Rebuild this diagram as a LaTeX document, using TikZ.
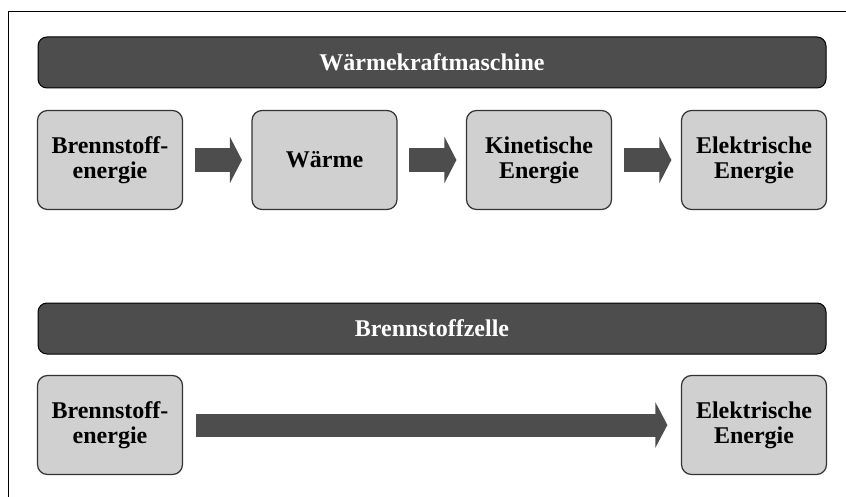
\documentclass[tikz,border=0pt]{standalone}
\usepackage{fontspec}
\setmainfont{Liberation Serif}
\usetikzlibrary{arrows.meta}
\definecolor{bandgray}{HTML}{4D4D4D}
\definecolor{boxgray}{HTML}{D0D0D0}
\definecolor{edgegray}{HTML}{333333}
\begin{document}
\begin{tikzpicture}[x=1pt,y=-1pt,
  band/.style={draw=black, line width=1pt, fill=bandgray, rounded corners=9pt,
    minimum width=788pt, minimum height=51pt, inner sep=0pt,
    text=white, font=\bfseries\fontsize{24}{25}\selectfont},
  stage/.style={draw=edgegray, line width=1.2pt, fill=boxgray, rounded corners=10pt,
    minimum width=145pt, minimum height=99pt, inner sep=0pt, align=center,
    text=black, font=\bfseries\fontsize{24}{25}\selectfont},
  flow/.style={draw=bandgray, line width=24pt,
    -{Triangle[length=12pt,width=46pt]}},
  longflow/.style={draw=bandgray, line width=23pt,
    -{Triangle[length=12pt,width=45pt]}}]
\useasboundingbox (0,0) rectangle (846,497);

% frame edges
\draw[line width=1pt] (8,497) -- (8,12) -- (846,12);

% heat engine chain
\node[band] (hw) at (432,62.5) {Wärmekraftmaschine};
\node[stage] (a1) at (110,160) {Brennstoff-\\energie};
\node[stage] (a2) at (324.5,160) {Wärme};
\node[stage] (a3) at (539,160) {Kinetische\\Energie};
\node[stage] (a4) at (754,160) {Elektrische\\Energie};
\draw[flow] ([xshift=11.5pt]a1.east) -- ([xshift=-9.5pt]a2.west);
\draw[flow] ([xshift=11.5pt]a2.east) -- ([xshift=-9.5pt]a3.west);
\draw[flow] ([xshift=11.5pt]a3.east) -- ([xshift=-9.5pt]a4.west);

% fuel cell chain
\node[band] (hb) at (432,328.5) {Brennstoffzelle};
\node[stage] (b1) at (110,425) {Brennstoff-\\energie};
\node[stage] (b2) at (754,425) {Elektrische\\Energie};
\draw[longflow] ([xshift=12.5pt]b1.east) -- ([xshift=-13.5pt]b2.west);
\end{tikzpicture}
\end{document}
